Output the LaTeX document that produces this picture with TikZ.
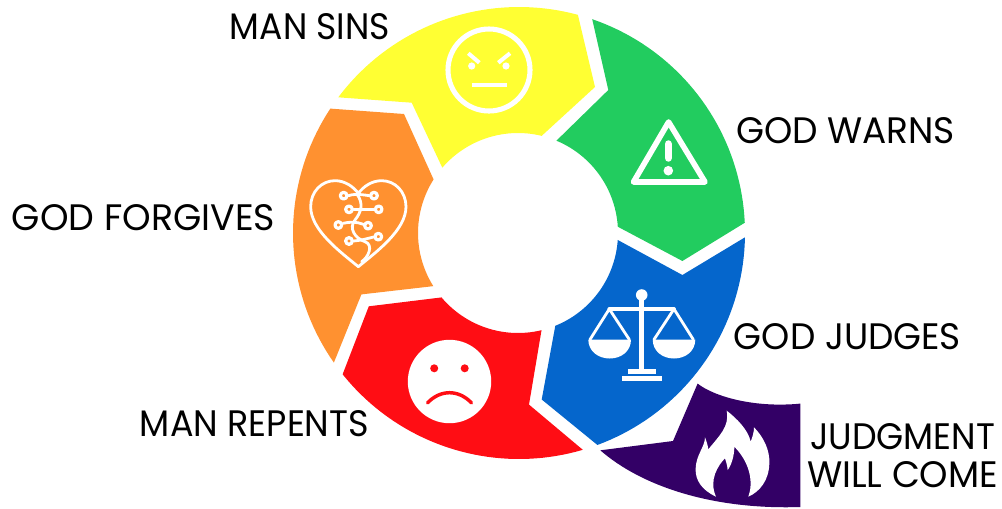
\documentclass[tikz,border=0pt]{standalone}
\usepackage{fontspec}
\usepackage{graphicx}
\setmainfont{Poppins}
\definecolor{cyellow}{HTML}{FFFF33}
\definecolor{cgreen}{HTML}{22CC5F}
\definecolor{cblue}{HTML}{0566CC}
\definecolor{cred}{HTML}{FF0D14}
\definecolor{corange}{HTML}{FF9130}
\definecolor{cpurple}{HTML}{330066}
\newcommand{\lab}[6]{\node[textlabel] (#1) at (#2,#3) {\resizebox{#4}{#5}{#6}};}
\tikzset{
  textlabel/.style={inner sep=0pt,outer sep=0pt,text=black},
  icon/.style={draw=white,line cap=round,line join=round},
  thickicon/.style={icon,line width=3.8pt},
  thinicon/.style={icon,line width=2.1pt},
  oarc/.style={domain=#1,samples=40},
  iarc/.style={domain=#1,samples=30}
}
\begin{document}
\begin{tikzpicture}[x=0.75pt,y=-0.75pt]
\useasboundingbox (0,0) rectangle (1002,508);
% ring segments
\fill[cyellow] plot[oarc=-143.1:-74.9] ({519+226*cos(\x)},{233+226*sin(\x)}) -- (595,87) -- plot[iarc=-76.3:-139.2] ({518+100*cos(\x)},{233+100*sin(\x)}) -- (411.7,102.7) -- cycle;
\fill[cgreen] plot[oarc=-71.1:-2.6] ({519+226*cos(\x)},{233+226*sin(\x)}) -- (682.4,261) -- plot[iarc=-3.6:-67.4] ({518+100*cos(\x)},{233+100*sin(\x)}) -- (608.3,90) -- cycle;
\fill[cblue] plot[oarc=1.1:69.7] ({519+226*cos(\x)},{233+226*sin(\x)}) -- (541.7,399.5) -- plot[iarc=68.1:4] ({518+100*cos(\x)},{233+100*sin(\x)}) -- (682.4,275) -- cycle;
\fill[cred] plot[oarc=73.6:141.3] ({519+226*cos(\x)},{233+226*sin(\x)}) -- (368.8,306.3) -- plot[iarc=139.9:76.4] ({518+100*cos(\x)},{233+100*sin(\x)}) -- (529,404.6) -- cycle;
\fill[corange] plot[oarc=145:213.4] ({519+226*cos(\x)},{233+226*sin(\x)}) -- (404,114) -- plot[iarc=212.4:147.9] ({518+100*cos(\x)},{233+100*sin(\x)}) -- (361.4,294.4) -- cycle;
\fill[cpurple] (697.6,383.6) .. controls (715,397) and (755,408) .. (800.3,403.6) -- (800.3,507) .. controls (710,510) and (640,485) .. (600.3,450.3) -- (673,441) -- cycle;
% angry face
\draw[thickicon] (489,70) circle (41);
\draw[thinicon,line width=3pt,line cap=butt] (468.3,53.3) -- (479.3,62.7) (510,53.3) -- (498.3,62.7);
\fill[white] (471.7,66) circle (3.6) (506,66) circle (3.6);
\draw[thinicon,line width=3.6pt,line cap=butt] (471.7,85) -- (506.7,85);
% warning sign
\draw[thickicon,line width=4.2pt] (668.6,122) -- (705,182) -- (633.5,182) -- cycle;
\draw[icon,line width=5.6pt] (668.3,144) -- (668.3,158);
\fill[white] (668.3,170.7) circle (4.8);
% heart
\begin{scope}[shift={(300,170)},scale=0.3333]
\draw[thinicon] (175,290) .. controls (120,245) and (32,180) .. (32,110) .. controls (32,65) and (65,32) .. (105,32) .. controls (135,32) and (160,50) .. (175,70) .. controls (190,50) and (215,32) .. (245,32) .. controls (285,32) and (318,65) .. (318,110) .. controls (318,180) and (230,245) .. (175,290) -- cycle;
\draw[thinicon] (145,77) .. controls (160,72) and (175,72) .. (208,77);
\draw[thinicon] (172,74) .. controls (190,100) and (185,125) .. (165,150) .. controls (145,175) and (165,205) .. (195,215) .. controls (222,225) and (205,262) .. (185,275);
\draw[thinicon] (161,118) -- (222,118);
\draw[thinicon] (129,160) .. controls (150,155) and (170,155) .. (190,163);
\draw[thinicon] (161,213) .. controls (180,212) and (205,205) .. (221,201);
\foreach \nx/\ny in {131/77,222/77,147/118,236/118,115/165,204/167,147/213,235/200}
  \draw[thinicon,line width=2.4pt] (\nx,\ny) circle (10);
\end{scope}
% scales
\fill[white] (641.7,295) circle (5.8);
\draw[thinicon,line width=3.6pt,line cap=butt] (641.7,295) -- (641.7,372);
\draw[thinicon,line width=2.8pt] (609.3,309) -- (674,309);
\draw[thinicon] (590,339.5) -- (609.3,309) -- (629.3,339.5);
\draw[thinicon] (654,339.5) -- (674,309) -- (693.3,339.5);
\fill[white] (588.3,339.5) .. controls (588.3,351) and (598,358.5) .. (609.7,358.5) .. controls (621.5,358.5) and (631,351) .. (631,339.5) -- cycle;
\fill[white] (652.7,339.5) .. controls (652.7,351) and (662.3,358.5) .. (674,358.5) .. controls (685.7,358.5) and (695.3,351) .. (695.3,339.5) -- cycle;
\fill[white] (627.7,369.3) rectangle (656,374);
\fill[white] (622.3,376) rectangle (661.7,380.7);
% sad face
\fill[white] (449.5,381.5) circle (41.7);
\fill[cred] (434.2,368.3) circle (4) (464.7,368.3) circle (4);
\draw[cred,line width=2.6pt,line cap=round] (427.5,402.9) .. controls (434,396) and (442,392.7) .. (449.5,392.7) .. controls (457,392.7) and (465,396) .. (471.5,402.9);
% flame
\begin{scope}[shift={(680,400)},scale=0.3333]
\fill[white] (140,32) .. controls (170,55) and (205,90) .. (212,125) .. controls (218,110) and (222,95) .. (222,82) .. controls (250,110) and (270,150) .. (268,190) .. controls (267,240) and (240,275) .. (205,290) .. controls (220,250) and (212,190) .. (163,140) .. controls (163,165) and (155,195) .. (143,210) .. controls (142,195) and (138,185) .. (135,175) .. controls (115,195) and (85,240) .. (108,290) .. controls (65,270) and (45,240) .. (47,205) .. controls (48,165) and (75,140) .. (75,112) .. controls (80,125) and (83,135) .. (85,148) .. controls (115,110) and (150,80) .. (140,32) -- cycle;
\end{scope}
% labels
\lab{mansins}{310}{27}{120pt}{19.5pt}{MAN SINS}
\lab{godwarns}{845.5}{131}{164.25pt}{19.5pt}{GOD WARNS}
\lab{godforgives}{143.5}{218}{197.25pt}{19.5pt}{GOD FORGIVES}
\lab{godjudges}{847.5}{337}{170.25pt}{19.5pt}{GOD JUDGES}
\lab{manrepents}{254.5}{424}{171.75pt}{19.5pt}{MAN REPENTS}
\lab{judgment}{902.5}{437}{138.75pt}{19.5pt}{JUDGMENT}
\lab{willcome}{902.5}{475}{143.25pt}{19.5pt}{WILL COME}
\end{tikzpicture}
\end{document}
